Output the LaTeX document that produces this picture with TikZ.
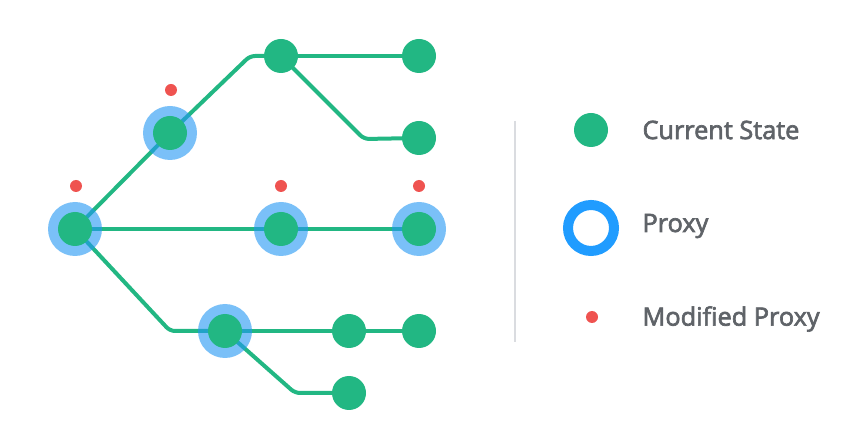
\documentclass[tikz,border=0pt]{standalone}
\usepackage{fontspec}
\setmainfont{Open Sans}
\newfontfamily\legfont{Open Sans}[FakeBold=2.6]
\definecolor{stgreen}{HTML}{22B783}
\definecolor{pxblue}{HTML}{2196F3}
\definecolor{ringblue}{HTML}{209CFF}
\definecolor{modred}{HTML}{EF5350}
\definecolor{txtgray}{HTML}{5F6368}
\definecolor{sepgray}{HTML}{DADCE0}
\tikzset{
  state/.style={circle,fill=stgreen,inner sep=0pt,minimum size=34pt},
  halo/.style={circle,fill=pxblue,fill opacity=0.6,inner sep=0pt,minimum size=54pt},
  moddot/.style={circle,fill=modred,inner sep=0pt,minimum size=12pt},
  edge/.style={stgreen,line width=4pt,rounded corners=5pt},
  legtext/.style={anchor=west,text=txtgray,font=\legfont\fontsize{25.3}{29}\selectfont},
}
\begin{document}
\begin{tikzpicture}[x=1pt,y=-1pt]
\useasboundingbox (0,0) rectangle (868,438);
% centres
\coordinate (R) at (75,229);
\coordinate (A) at (170,133);
\coordinate (B) at (281,56);
\coordinate (C) at (419,56);
\coordinate (D) at (419,138);
\coordinate (E) at (281,229);
\coordinate (F) at (419,229);
\coordinate (G) at (225,331);
\coordinate (H) at (349,331);
\coordinate (I) at (419,331);
\coordinate (J) at (349,393);
% connectors
\draw[edge] (R) -- (A) -- (250,56) -- (B);
\draw[edge] (B) -- (C);
\draw[edge] (B) -- (364,139) -- (D);
\draw[edge] (R) -- (E) -- (F);
\draw[edge] (R) -- (170,331) -- (G);
\draw[edge] (G) -- (H) -- (I);
\draw[edge] (G) -- (295,393) -- (J);
% proxies
\foreach \p in {R,A,E,F,G} \node[halo] (h\p) at (\p) {};
% states
\foreach \p in {R,A,B,C,D,E,F,G,H,I,J} \node[state] (s\p) at (\p) {};
% modified proxies
\node[moddot] (mR) at (76,186) {};
\node[moddot] (mA) at (171,90) {};
\node[moddot] (mE) at (281,186) {};
\node[moddot] (mF) at (419,186) {};
% legend
\coordinate (sepT) at (515,121);
\coordinate (sepB) at (515,342);
\draw[sepgray,line width=1.2pt] (sepT) -- (sepB);
\node[state] (lgS) at (591,130) {};
\node[circle,draw=ringblue,line width=10pt,inner sep=0pt,minimum size=46pt] (lgP) at (591,228) {};
\node[moddot] (lgM) at (592,317) {};
\node[legtext] (tS) at (639,130) {Current State};
\node[legtext] (tP) at (639,226) {Proxy};
\node[legtext] (tM) at (639,319) {Modified Proxy};
\end{tikzpicture}
\end{document}
